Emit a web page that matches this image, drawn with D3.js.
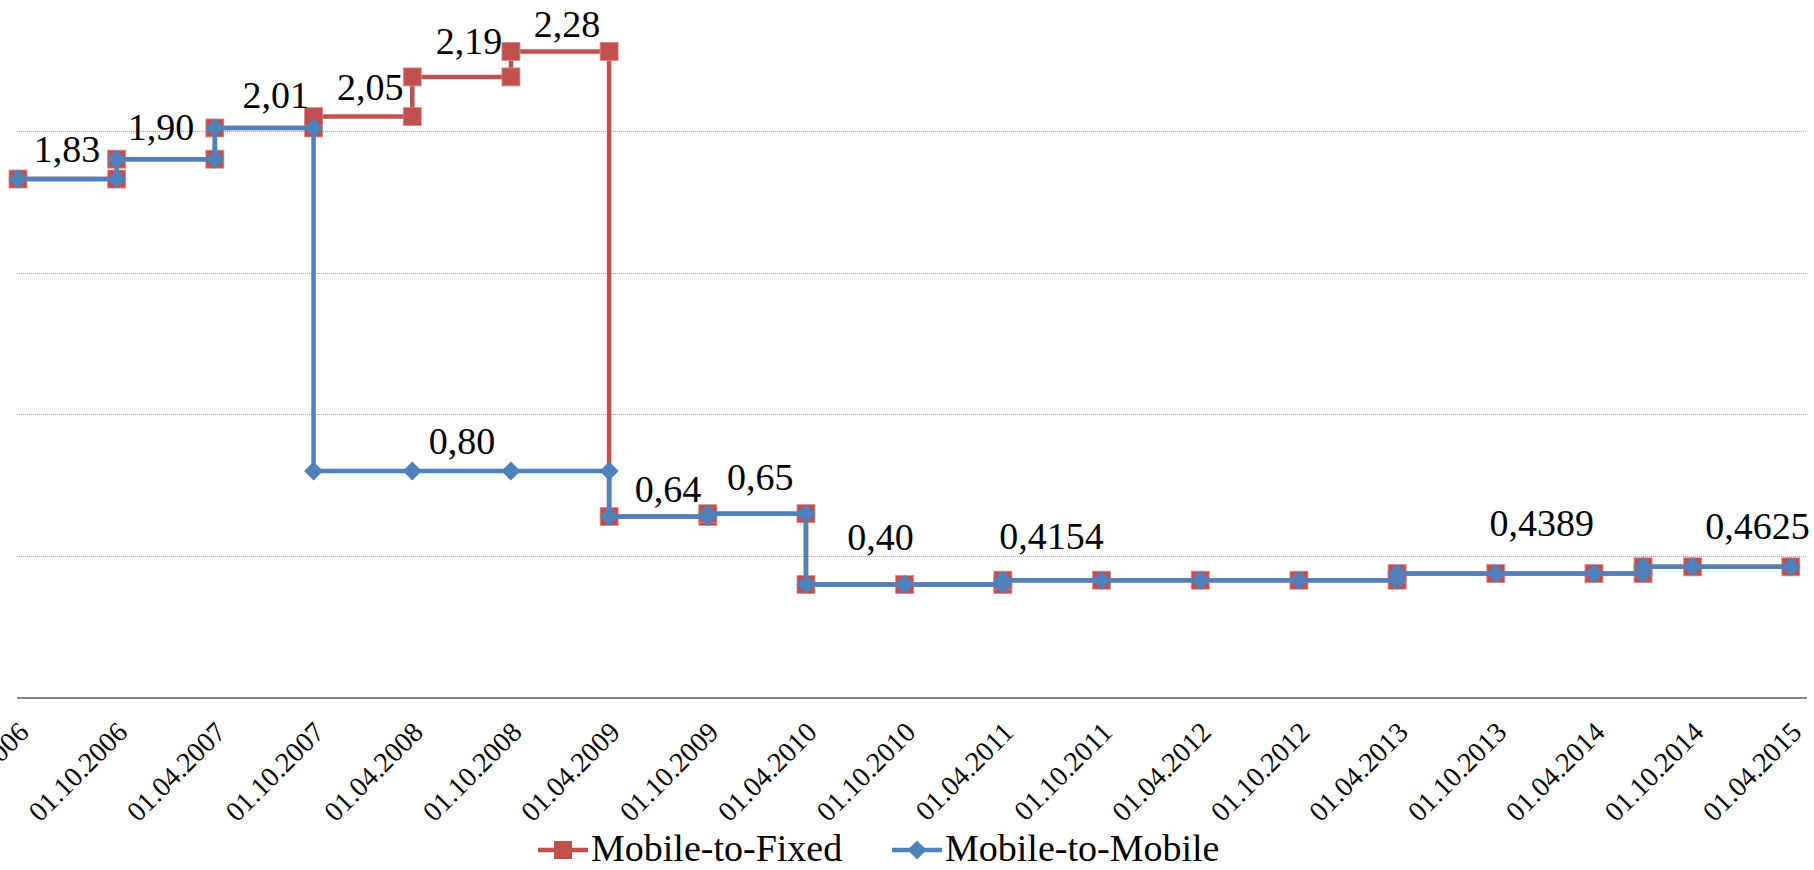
<!DOCTYPE html>
<html>
<head>
<meta charset="utf-8">
<script src="https://cdn.jsdelivr.net/npm/d3@7"></script>
<style>
  body { margin: 0; background: #fff; }
  svg { display: block; }
</style>
</head>
<body>
<svg id="chart"></svg>
<script>
// step series: every change of rate is two points on the same date
var fixedDates = ["2006-04-01", "2006-10-01", "2006-10-01", "2007-04-01", "2007-04-01", "2007-10-01", "2007-10-01",
                  "2008-04-01", "2008-04-01", "2008-10-01", "2008-10-01", "2009-04-01", "2009-04-01", "2009-10-01",
                  "2009-10-01", "2010-04-01", "2010-04-01", "2010-10-01", "2011-04-01", "2011-04-01", "2011-10-01",
                  "2012-04-01", "2012-10-01", "2013-04-01", "2013-04-01", "2013-10-01", "2014-04-01", "2014-07-01",
                  "2014-07-01", "2014-10-01", "2015-04-01"];
var fixedValues = [1.83, 1.83, 1.90, 1.90, 2.01, 2.01, 2.05,
                   2.05, 2.19, 2.19, 2.28, 2.28, 0.64, 0.64,
                   0.65, 0.65, 0.40, 0.40, 0.40, 0.4154, 0.4154,
                   0.4154, 0.4154, 0.4154, 0.4389, 0.4389, 0.4389, 0.4389,
                   0.4625, 0.4625, 0.4625];

var mobileDates = ["2006-04-01", "2006-10-01", "2006-10-01", "2007-04-01", "2007-04-01", "2007-10-01", "2007-10-01",
                   "2008-04-01", "2008-10-01", "2009-04-01", "2009-04-01", "2009-10-01",
                   "2009-10-01", "2010-04-01", "2010-04-01", "2010-10-01", "2011-04-01", "2011-04-01", "2011-10-01",
                   "2012-04-01", "2012-10-01", "2013-04-01", "2013-04-01", "2013-10-01", "2014-04-01", "2014-07-01",
                   "2014-07-01", "2014-10-01", "2015-04-01"];
var mobileValues = [1.83, 1.83, 1.90, 1.90, 2.01, 2.01, 0.80,
                    0.80, 0.80, 0.80, 0.64, 0.64,
                    0.65, 0.65, 0.40, 0.40, 0.40, 0.4154, 0.4154,
                    0.4154, 0.4154, 0.4154, 0.4389, 0.4389, 0.4389, 0.4389,
                    0.4625, 0.4625, 0.4625];

// data labels
var labelTexts = ["1,83", "1,90", "2,01", "2,05", "2,19", "2,28", "0,80", "0,64", "0,65", "0,40", "0,4154", "0,4389", "0,4625"];
var labelValues = [1.83, 1.90, 2.01, 2.05, 2.19, 2.28, 0.80, 0.64, 0.65, 0.40, 0.4154, 0.4389, 0.4625];
var labelDates = ["2006-07-01", "2006-12-22", "2007-07-23", "2008-01-14", "2008-07-15", "2009-01-13", "2008-07-02",
                  "2009-07-19", "2010-01-06", "2010-08-17", "2011-06-30", "2013-12-25", "2015-01-29"];

var tickDates = ["2006-04-01", "2006-10-01", "2007-04-01", "2007-10-01", "2008-04-01", "2008-10-01", "2009-04-01",
                 "2009-10-01", "2010-04-01", "2010-10-01", "2011-04-01", "2011-10-01", "2012-04-01", "2012-10-01",
                 "2013-04-01", "2013-10-01", "2014-04-01", "2014-10-01", "2015-04-01"];
var gridValues = [0.5, 1.0, 1.5, 2.0];

var width = 1814,
    height = 870,
    red = "#C0504D",
    blue = "#4F81BD",
    serif = "'Liberation Serif', 'Times New Roman', serif",
    labelSize = "38px";

// how far each label sits above its line (px)
var labelLift = [17, 19, 20, 17, 23, 14, 17, 14, 24, 35, 31, 38, 28];

var parse = d3.timeParse("%Y-%m-%d"),
    fmt = d3.timeFormat("%d.%m.%Y");

var x = d3.scaleTime()
    .domain([parse("2006-04-01"), parse("2015-05-01")])
    .range([18, 1807]);
var y = d3.scaleLinear()
    .domain([0, 2.5])
    .range([698, 698 - 2.5 * 283.6]);

var svg = d3.select("#chart")
    .attr("width", width)
    .attr("height", height);

// gridlines
svg.append("g").selectAll("line")
    .data(gridValues)
    .enter().append("line")
    .attr("x1", 17).attr("x2", 1807)
    .attr("y1", function(d) { return Math.round(y(d)) + 0.5; })
    .attr("y2", function(d) { return Math.round(y(d)) + 0.5; })
    .attr("stroke", "#a6a6a6")
    .attr("stroke-width", 1)
    .attr("stroke-dasharray", "1,1");

// x axis
var xAxis = d3.axisBottom(x)
    .tickValues(tickDates.map(parse))
    .tickFormat(fmt)
    .tickSize(0);

var ax = svg.append("g")
    .attr("transform", "translate(0," + y(0) + ")")
    .call(xAxis);
ax.select(".domain")
    .attr("d", "M17,0H1807")
    .attr("stroke", "#868686")
    .attr("stroke-width", 2);
ax.selectAll(".tick text")
    .style("font-family", serif)
    .style("font-size", "28px")
    .attr("fill", "#000")
    .attr("text-anchor", "end")
    .attr("x", 0).attr("y", 0).attr("dy", "0.35em")
    .attr("transform", "translate(5,29) rotate(-45)");

function toPoints(dates, values) {
    return dates.map(function(d, i) { return {date: parse(d), value: values[i]}; });
}
var fixed = toPoints(fixedDates, fixedValues),
    mobile = toPoints(mobileDates, mobileValues);

var line = d3.line()
    .x(function(d) { return x(d.date); })
    .y(function(d) { return y(d.value); });

var sq = 18, dm = 9.5;
var diamond = "M0," + (-dm) + "L" + dm + ",0L0," + dm + "L" + (-dm) + ",0Z";

// Mobile-to-Fixed (underneath)
svg.append("path")
    .datum(fixed)
    .attr("d", line)
    .attr("fill", "none")
    .attr("stroke", red)
    .attr("stroke-width", 4.5);
svg.append("g").selectAll("rect")
    .data(fixed)
    .enter().append("rect")
    .attr("x", function(d) { return x(d.date) - sq / 2; })
    .attr("y", function(d) { return y(d.value) - sq / 2; })
    .attr("width", sq).attr("height", sq)
    .attr("fill", red)
    .attr("stroke", "#d98c8a")
    .attr("stroke-width", 0.8);

// Mobile-to-Mobile
svg.append("path")
    .datum(mobile)
    .attr("d", line)
    .attr("fill", "none")
    .attr("stroke", blue)
    .attr("stroke-width", 4.5);
svg.append("g").selectAll("path")
    .data(mobile)
    .enter().append("path")
    .attr("d", diamond)
    .attr("transform", function(d) { return "translate(" + x(d.date) + "," + y(d.value) + ")"; })
    .attr("fill", blue);

// data labels
svg.append("g").selectAll("text")
    .data(labelTexts)
    .enter().append("text")
    .attr("x", function(d, i) { return x(parse(labelDates[i])); })
    .attr("y", function(d, i) { return y(labelValues[i]) - labelLift[i]; })
    .attr("text-anchor", "middle")
    .style("font-family", serif)
    .style("font-size", labelSize)
    .attr("fill", "#000")
    .text(function(d) { return d; });

// legend
var legend = [
    {name: "Mobile-to-Fixed", color: red, shape: "square", x: 538},
    {name: "Mobile-to-Mobile", color: blue, shape: "diamond", x: 892}
];
var lg = svg.append("g").selectAll("g")
    .data(legend)
    .enter().append("g")
    .attr("transform", function(d) { return "translate(" + d.x + ",850)"; });
lg.append("line")
    .attr("x1", 0).attr("x2", 50)
    .attr("stroke", function(d) { return d.color; })
    .attr("stroke-width", 4.5);
lg.filter(function(d) { return d.shape == "square"; })
    .append("rect")
    .attr("x", 25 - sq / 2).attr("y", -sq / 2)
    .attr("width", sq).attr("height", sq)
    .attr("fill", red);
lg.filter(function(d) { return d.shape == "diamond"; })
    .append("path")
    .attr("d", diamond)
    .attr("transform", "translate(25,0)")
    .attr("fill", blue);
lg.append("text")
    .attr("x", 53)
    .attr("dy", "0.3em")
    .style("font-family", serif)
    .style("font-size", labelSize)
    .attr("fill", "#000")
    .text(function(d) { return d.name; });
</script>
</body>
</html>
